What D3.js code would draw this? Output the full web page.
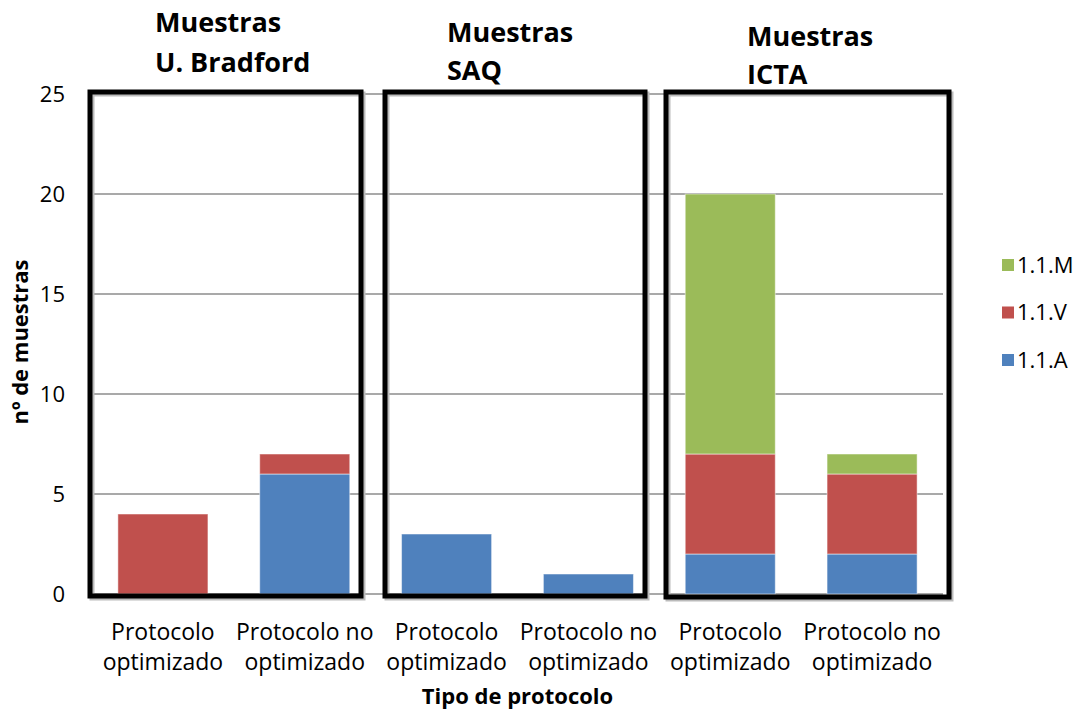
<!DOCTYPE html>
<html><head><meta charset="utf-8">
<script src="https://cdn.jsdelivr.net/npm/d3@7"></script>
<style>
body{margin:0;background:#fff;}
text{font-family:"Open Sans",sans-serif;fill:#000;}
</style></head>
<body>
<svg id="chart" width="1082" height="713"></svg>
<script>
const categories = ["U. Bradford|opt","U. Bradford|noopt","SAQ|opt","SAQ|noopt","ICTA|opt","ICTA|noopt"];
const categoryLabels = [["Protocolo","optimizado"],["Protocolo no","optimizado"],["Protocolo","optimizado"],["Protocolo no","optimizado"],["Protocolo","optimizado"],["Protocolo no","optimizado"]];
const seriesNames = ["1.1.A","1.1.V","1.1.M"];
const seriesColors = ["#4F81BD","#C0504D","#9BBB59"];
const valuesA = [0,6,3,1,2,2];
const valuesV = [4,1,0,0,5,4];
const valuesM = [0,0,0,0,13,1];
const yTicks = [0,5,10,15,20,25];
const groupTitles = [["Muestras","U. Bradford"],["Muestras","SAQ"],["Muestras","ICTA"]];

const svg = d3.select("#chart");
const L = 92, R = 943, T = 94, B = 594;
const x = d3.scaleBand().domain(categories).range([L,R]).paddingInner(0.365).paddingOuter(0.1825);
const y = d3.scaleLinear().domain([0,25]).range([B,T]);

// gridlines
svg.append("g").selectAll("line").data(yTicks.filter(d=>d>0)).join("line")
  .attr("x1",L).attr("x2",R).attr("y1",d=>y(d)).attr("y2",d=>y(d))
  .attr("stroke","#8c8c8c").attr("stroke-width",1.5);

// y axis
const yAxis = d3.axisLeft(y).tickValues(yTicks).tickSize(0).tickPadding(27);
const gy = svg.append("g").attr("transform",`translate(${L},0)`).call(yAxis);
gy.select(".domain").attr("stroke","#8c8c8c").attr("stroke-width",1.5);
gy.selectAll("text").style("font-size","22px").style("font-family","'Open Sans',sans-serif").attr("fill","#000").attr("dy","0.35em");

// x axis line
svg.append("line").attr("x1",L).attr("x2",R).attr("y1",y(0)).attr("y2",y(0)).attr("stroke","#8c8c8c").attr("stroke-width",1.5);

// stacked data
const table = categories.map((c,i)=>({cat:c,"1.1.A":valuesA[i],"1.1.V":valuesV[i],"1.1.M":valuesM[i]}));
const stack = d3.stack().keys(seriesNames)(table);
svg.append("g").selectAll("g").data(stack).join("g")
  .attr("fill",(d,i)=>seriesColors[i])
  .selectAll("rect").data(d=>d.filter(p=>p[1]-p[0]>0)).join("rect")
  .attr("x",d=>x(d.data.cat)).attr("width",x.bandwidth())
  .attr("y",d=>y(d[1])).attr("height",d=>y(d[0])-y(d[1]))
  .attr("stroke","rgba(255,255,255,0.5)").attr("stroke-width",1);

// x labels
const xl = svg.append("g");
categories.forEach((c,i)=>{
  const cx = x(c)+x.bandwidth()/2;
  const t = xl.append("text").attr("text-anchor","middle").style("font-size","23px");
  t.append("tspan").attr("x",cx).attr("y",640).text(categoryLabels[i][0]);
  t.append("tspan").attr("x",cx).attr("y",670).text(categoryLabels[i][1]);
});

// axis titles
svg.append("text").attr("x",(L+R)/2).attr("y",704).attr("text-anchor","middle")
  .style("font-size","22px").style("font-weight","bold").text("Tipo de protocolo");
svg.append("text").attr("transform","translate(28,342) rotate(-90)").attr("text-anchor","middle")
  .style("font-size","22px").style("font-weight","bold").text("nº de muestras");

// legend
const legend = svg.append("g");
const legOrder = [2,1,0];
legOrder.forEach((si,k)=>{
  const yy = 265 + k*47.5;
  legend.append("rect").attr("x",1002).attr("y",yy-6).attr("width",12).attr("height",12).attr("fill",seriesColors[si]);
  legend.append("text").attr("x",1017).attr("y",yy).attr("dy","0.35em").style("font-size","22px").text(seriesNames[si]);
});

// group boxes (annotation)
const boxes = [[90,92,271,504],[385,92,260,504],[666,92,283,505]];
boxes.forEach(b=>{
  svg.append("rect").attr("x",b[0]+2).attr("y",b[1]+2).attr("width",b[2]).attr("height",b[3])
    .attr("fill","none").attr("stroke","#bbb").attr("stroke-width",5);
  svg.append("rect").attr("x",b[0]).attr("y",b[1]).attr("width",b[2]).attr("height",b[3])
    .attr("fill","none").attr("stroke","#000").attr("stroke-width",5);
});

// group titles
const titlePos = [[155,32,72],[447,42,80],[747,46,84]];
groupTitles.forEach((g,i)=>{
  const t = svg.append("text").style("font-size","27px").style("font-weight","bold");
  t.append("tspan").attr("x",titlePos[i][0]).attr("y",titlePos[i][1]).text(g[0]);
  t.append("tspan").attr("x",titlePos[i][0]).attr("y",titlePos[i][2]).text(g[1]);
});
</script>
</body></html>
